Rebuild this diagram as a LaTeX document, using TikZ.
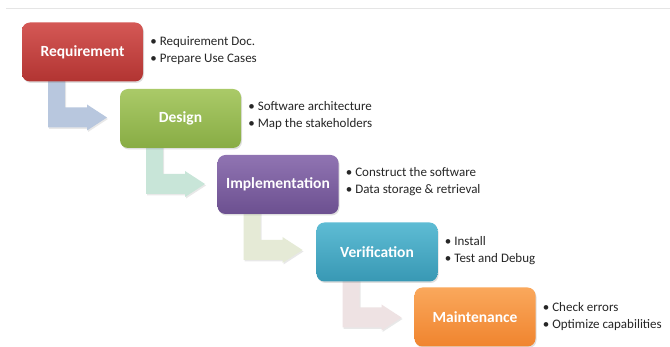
\documentclass[tikz,border=0pt]{standalone}
\usepackage{fontspec}
\setmainfont{Carlito}
\usetikzlibrary{calc,shadows}
\definecolor{redT}{RGB}{212,88,85}
\definecolor{redB}{RGB}{178,52,50}
\definecolor{grnT}{RGB}{170,202,104}
\definecolor{grnB}{RGB}{136,172,68}
\definecolor{purT}{RGB}{144,116,178}
\definecolor{purB}{RGB}{108,80,144}
\definecolor{tealT}{RGB}{94,188,212}
\definecolor{tealB}{RGB}{56,152,180}
\definecolor{orgT}{RGB}{250,168,92}
\definecolor{orgB}{RGB}{240,132,46}
\definecolor{arrA}{RGB}{184,199,222}
\definecolor{arrB}{RGB}{200,229,216}
\definecolor{arrC}{RGB}{229,234,214}
\definecolor{arrD}{RGB}{238,226,227}
\begin{document}
\begin{tikzpicture}[x=1pt,y=-1pt,
  phase/.style={rounded corners=8pt, minimum width=121pt, minimum height=59pt,
    inner sep=0pt, text=white, font=\fontsize{15.5}{17}\selectfont\bfseries,
    drop shadow={shadow xshift=1pt, shadow yshift=-1.5pt, opacity=0.25}},
  notes/.style={anchor=west, align=left, inner sep=0pt,
    font=\fontsize{13}{17}\selectfont, text=black!85},
  bentarrow/.style={draw=none, drop shadow={shadow xshift=1pt, shadow yshift=-1.5pt, opacity=0.18}}
]
\useasboundingbox (0,0) rectangle (670,347);
\fill[white] (0,0) rectangle (670,347);
\coordinate (rl) at (6,8);
\coordinate (rr) at (670,8);
\draw[black!10, line width=0.8pt] (rl) -- (rr);

% boxes (positions)
\path (82.5,52) coordinate (c1) (180.5,118.5) coordinate (c2) (278,184.5) coordinate (c3)
      (377,252) coordinate (c4) (475,317) coordinate (c5);

% bent arrows
\newcommand{\bentarr}[2]{%
  \fill[#2, bentarrow]
    ($(#1)+(-34.5,28)$) -- ($(#1)+(-17.5,28)$) -- ($(#1)+(-17.5,55.5)$)
    -- ($(#1)+(4.5,55.5)$) -- ($(#1)+(4.5,52.5)$) -- ($(#1)+(24.5,65.5)$)
    -- ($(#1)+(4.5,78.5)$) -- ($(#1)+(4.5,75.5)$) -- ($(#1)+(-34.5,75.5)$) -- cycle;}
\bentarr{c1}{arrA}
\bentarr{c2}{arrB}
\bentarr{c3}{arrC}
\bentarr{c4}{arrD}

\node[phase, top color=redT, bottom color=redB] (req) at (c1) {Requirement};
\node[phase, top color=grnT, bottom color=grnB] (des) at (c2) {Design};
\node[phase, top color=purT, bottom color=purB] (imp) at (c3) {Implementation};
\node[phase, top color=tealT, bottom color=tealB] (ver) at (c4) {Verification};
\node[phase, top color=orgT, bottom color=orgB] (mai) at (c5) {Maintenance};

\node[notes] (nreq) at ($(req.east)+(7,-1.5)$) {• Requirement Doc.\\• Prepare Use Cases};
\node[notes] (ndes) at ($(des.east)+(7,-3)$) {• Software architecture\\• Map the stakeholders};
\node[notes] (nimp) at ($(imp.east)+(7,-2.5)$) {• Construct the software\\• Data storage \& retrieval};
\node[notes] (nver) at ($(ver.east)+(7,-1.5)$) {• Install\\• Test and Debug};
\node[notes] (nmai) at ($(mai.east)+(7,0)$) {• Check errors\\• Optimize capabilities};
\end{tikzpicture}
\end{document}
